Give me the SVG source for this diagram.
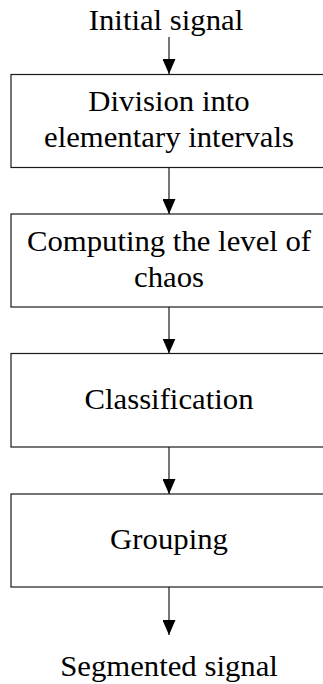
<svg xmlns="http://www.w3.org/2000/svg" width="323" height="684" viewBox="0 0 323 684">
  <style>
    .box { fill: #ffffff; stroke: #1a1a1a; stroke-width: 1.2; }
    .lbl { font-family: "Liberation Serif", "Times New Roman", serif; font-size: 29px; fill: #000; text-anchor: middle; }
    .conn { stroke: #1a1a1a; stroke-width: 1.2; fill: none; marker-end: url(#arrow); }
  </style>
  <defs>
    <marker id="arrow" markerUnits="userSpaceOnUse" markerWidth="15" markerHeight="13" refX="15" refY="6.5" orient="auto">
      <path d="M0,0 L15,6.5 L0,13 z" fill="#000"/>
    </marker>
  </defs>
  <rect width="323" height="684" fill="#ffffff"/>

  <g id="connectors">
    <line class="conn" x1="169" y1="37" x2="169" y2="74"/>
    <line class="conn" x1="169" y1="167.5" x2="169" y2="214"/>
    <line class="conn" x1="169" y1="307" x2="169" y2="353.5"/>
    <line class="conn" x1="169" y1="447" x2="169" y2="494"/>
    <line class="conn" x1="169" y1="587" x2="169" y2="635"/>
  </g>

  <g id="input">
    <text class="lbl" transform="translate(166,30) scale(1.06,1)" x="0" y="0">Initial signal</text>
  </g>

  <g id="division">
    <rect class="box" x="11" y="74.5" width="340" height="93"/>
    <text class="lbl" transform="translate(169,110.5) scale(1.06,1)" x="0" y="0">Division into</text>
    <text class="lbl" transform="translate(169,147) scale(1.06,1)" x="0" y="0">elementary intervals</text>
  </g>

  <g id="chaos">
    <rect class="box" x="11" y="214" width="340" height="93"/>
    <text class="lbl" transform="translate(169,250.5) scale(1.06,1)" x="0" y="0">Computing the level of</text>
    <text class="lbl" transform="translate(169,287.3) scale(1.06,1)" x="0" y="0">chaos</text>
  </g>

  <g id="classification">
    <rect class="box" x="11" y="353.5" width="340" height="93.5"/>
    <text class="lbl" transform="translate(169,409) scale(1.06,1)" x="0" y="0">Classification</text>
  </g>

  <g id="grouping">
    <rect class="box" x="11" y="494" width="340" height="93"/>
    <text class="lbl" transform="translate(169,549) scale(1.06,1)" x="0" y="0">Grouping</text>
  </g>

  <g id="output">
    <text class="lbl" transform="translate(169,676) scale(1.06,1)" x="0" y="0">Segmented signal</text>
  </g>
</svg>
